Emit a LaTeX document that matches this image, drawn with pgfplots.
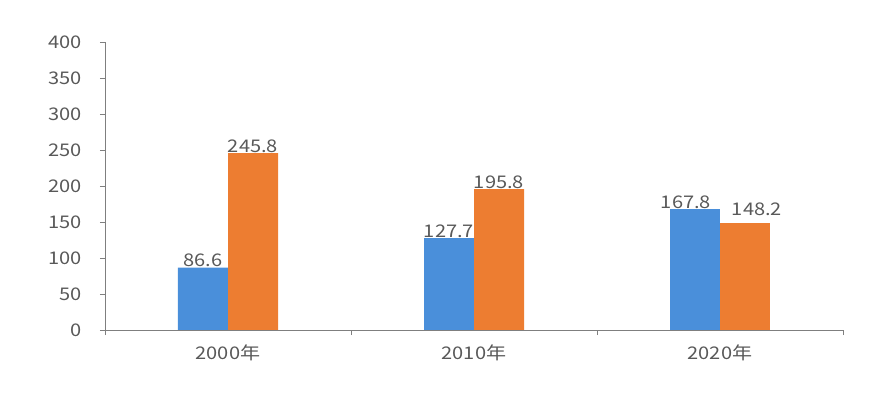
\documentclass[border=0pt]{standalone}
\usepackage{fontspec}
\setmainfont{Noto Sans CJK SC}[FakeStretch=1.15]
\usepackage{pgfplots}
\pgfplotsset{compat=1.18}
\definecolor{cblue}{HTML}{4A8FDA}
\definecolor{corange}{HTML}{ED7D31}
\definecolor{ctext}{HTML}{595959}
\definecolor{caxis}{HTML}{7F7F7F}
\begin{document}
\begin{tikzpicture}
\path[use as bounding box] (-105bp,-72bp) rectangle (773bp,330bp);
\begin{axis}[
  at={(0,0)}, anchor=south west,
  scale only axis, width=738bp, height=288bp,
  ybar, bar width=50bp,
  xmin=-0.5, xmax=2.5, ymin=0, ymax=400,
  ytick={0,50,...,400},
  xtick={-0.5,0.5,1.5,2.5},
  xticklabels={},
  extra x ticks={0,1,2},
  extra x tick labels={2000年,2010年,2020年},
  extra x tick style={major tick length=0pt},
  axis x line*=bottom, axis y line*=left,
  axis line style={draw=caxis, line width=1pt, -},
  tick style={draw=caxis, line width=1pt},
  major tick length=5bp,
  tick align=outside,
  /pgf/number format/assume math mode=true,
  tick label style={font=\fontsize{17.5}{19}\selectfont, text=ctext},
  yticklabel style={xshift=-15bp},
  xticklabel style={yshift=-11bp},
  nodes near coords,
  nodes near coords style={font=\fontsize{17.5}{19}\selectfont, text=ctext, inner sep=0.5pt,
    /pgf/number format/fixed, /pgf/number format/fixed zerofill, /pgf/number format/precision=1},
]
\addplot[fill=cblue, draw=none, bar shift=-25bp] coordinates {(0,86.6) (1,127.7)};
\addplot[fill=cblue, draw=none, bar shift=-25bp, every node near coord/.append style={xshift=-9bp}] coordinates {(2,167.8)};
\addplot[fill=corange, draw=none, bar shift=25bp] coordinates {(0,245.8) (1,195.8)};
\addplot[fill=corange, draw=none, bar shift=25bp, every node near coord/.append style={xshift=12bp, yshift=7bp}] coordinates {(2,148.2)};
\end{axis}
\end{tikzpicture}
\end{document}
